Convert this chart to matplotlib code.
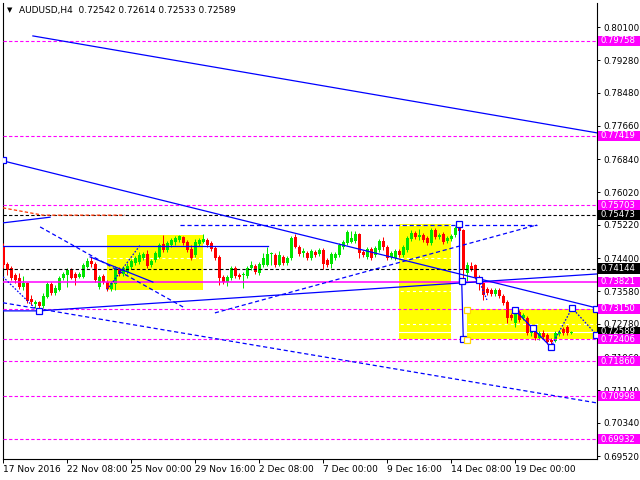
import matplotlib
matplotlib.use("Agg")
import matplotlib.pyplot as plt
from matplotlib.patches import Rectangle
import numpy as np

plt.rcParams['font.family'] = 'DejaVu Sans'
plt.rcParams['lines.scale_dashes'] = False

# AUDUSD H4 candles, bar 0 = 17 Nov 2016
opens = [
    0.7470, 0.7426, 0.7416, 0.7399, 0.7391, 0.7369, 0.7379, 0.7339, 0.7327, 0.7332,
    0.7322, 0.7344, 0.7376, 0.7354, 0.7362, 0.7391, 0.7399, 0.7413, 0.7401, 0.7394,
    0.7394, 0.7418, 0.7433, 0.7426, 0.7369, 0.7396, 0.7381, 0.7364, 0.7376, 0.7413,
    0.7401, 0.7406, 0.7418, 0.7428, 0.7431, 0.7440, 0.7450, 0.7423, 0.7435, 0.7443,
    0.7475, 0.7460, 0.7472, 0.7480, 0.7485, 0.7492, 0.7480, 0.7463, 0.7448, 0.7475,
    0.7480, 0.7485, 0.7477, 0.7465, 0.7443, 0.7394, 0.7381, 0.7391, 0.7416, 0.7399,
    0.7399, 0.7396, 0.7416, 0.7421, 0.7403, 0.7423, 0.7423, 0.7450, 0.7448, 0.7423,
    0.7443, 0.7428, 0.7440, 0.7492, 0.7467, 0.7453, 0.7453, 0.7440, 0.7455, 0.7450,
    0.7460, 0.7435, 0.7426, 0.7440, 0.7448, 0.7467, 0.7477, 0.7480, 0.7482, 0.7499,
    0.7455, 0.7443, 0.7463, 0.7448, 0.7460, 0.7482, 0.7467, 0.7443, 0.7440, 0.7458,
    0.7448, 0.7460, 0.7487, 0.7502, 0.7492, 0.7497, 0.7490, 0.7477, 0.7509, 0.7492,
    0.7499, 0.7482, 0.7487, 0.7497, 0.7514, 0.7509, 0.7403, 0.7421, 0.7423, 0.7394,
    0.7379, 0.7364, 0.7362, 0.7352, 0.7362, 0.7347, 0.7332, 0.7300, 0.7280, 0.7307,
    0.7293, 0.7293, 0.7256, 0.7258, 0.7243, 0.7256, 0.7251, 0.7238, 0.7236, 0.7253,
    0.7265, 0.7270, 0.72542]
highs = [
    0.7477, 0.7431, 0.7421, 0.7403, 0.7403, 0.7396, 0.7381, 0.7349, 0.7337, 0.7335,
    0.7354, 0.7381, 0.7381, 0.7374, 0.7396, 0.7406, 0.7416, 0.7416, 0.7406, 0.7406,
    0.7428, 0.7440, 0.7443, 0.7431, 0.7399, 0.7401, 0.7386, 0.7384, 0.7421, 0.7418,
    0.7421, 0.7428, 0.7438, 0.7445, 0.7455, 0.7455, 0.7460, 0.7438, 0.7458, 0.7477,
    0.7497, 0.7482, 0.7490, 0.7494, 0.7497, 0.7494, 0.7485, 0.7472, 0.7487, 0.7490,
    0.7499, 0.7490, 0.7482, 0.7470, 0.7448, 0.7399, 0.7399, 0.7421, 0.7421, 0.7403,
    0.7406, 0.7421, 0.7433, 0.7426, 0.7431, 0.7453, 0.7467, 0.7455, 0.7453, 0.7458,
    0.7448, 0.7445, 0.7494, 0.7499, 0.7472, 0.7465, 0.7458, 0.7463, 0.7460, 0.7465,
    0.7465, 0.7440, 0.7455, 0.7455, 0.7477, 0.7485, 0.7509, 0.7507, 0.7507, 0.7502,
    0.7460, 0.7467, 0.7467, 0.7470, 0.7487, 0.7492, 0.7472, 0.7458, 0.7463, 0.7463,
    0.7472, 0.7494, 0.7509, 0.7507, 0.7512, 0.7502, 0.7494, 0.7514, 0.7514, 0.7502,
    0.7504, 0.7494, 0.7499, 0.7519, 0.7524, 0.7512, 0.7431, 0.7431, 0.7426, 0.7399,
    0.7384, 0.7369, 0.7367, 0.7367, 0.7367, 0.7352, 0.7337, 0.7305, 0.7310, 0.7312,
    0.7305, 0.7298, 0.7265, 0.7263, 0.7260, 0.7263, 0.7256, 0.7243, 0.7260, 0.7263,
    0.7270, 0.7275, 0.72614]
lows = [
    0.7416, 0.7399, 0.7386, 0.7379, 0.7364, 0.7362, 0.7330, 0.7325, 0.7317, 0.7312,
    0.7317, 0.7342, 0.7349, 0.7349, 0.7359, 0.7386, 0.7369, 0.7389, 0.7374, 0.7391,
    0.7391, 0.7416, 0.7418, 0.7381, 0.7364, 0.7376, 0.7359, 0.7359, 0.7362, 0.7396,
    0.7396, 0.7401, 0.7413, 0.7423, 0.7426, 0.7435, 0.7416, 0.7418, 0.7431, 0.7440,
    0.7455, 0.7455, 0.7467, 0.7472, 0.7480, 0.7472, 0.7455, 0.7435, 0.7443, 0.7470,
    0.7477, 0.7467, 0.7458, 0.7435, 0.7374, 0.7376, 0.7371, 0.7386, 0.7391, 0.7389,
    0.7367, 0.7391, 0.7411, 0.7401, 0.7399, 0.7418, 0.7421, 0.7423, 0.7418, 0.7421,
    0.7423, 0.7423, 0.7435, 0.7465, 0.7445, 0.7443, 0.7435, 0.7435, 0.7443, 0.7445,
    0.7413, 0.7418, 0.7416, 0.7435, 0.7443, 0.7463, 0.7472, 0.7477, 0.7477, 0.7440,
    0.7443, 0.7438, 0.7435, 0.7443, 0.7455, 0.7460, 0.7435, 0.7438, 0.7435, 0.7443,
    0.7443, 0.7455, 0.7482, 0.7487, 0.7485, 0.7480, 0.7472, 0.7472, 0.7487, 0.7487,
    0.7475, 0.7477, 0.7482, 0.7492, 0.7502, 0.7379, 0.7381, 0.7408, 0.7389, 0.7362,
    0.7337, 0.7349, 0.7347, 0.7347, 0.7342, 0.7325, 0.7280, 0.7287, 0.7270, 0.7283,
    0.7287, 0.7251, 0.7248, 0.7238, 0.7238, 0.7241, 0.7229, 0.7224, 0.7234, 0.7248,
    0.7251, 0.7251, 0.72533]
closes = [
    0.7423, 0.7411, 0.7391, 0.7386, 0.7369, 0.7379, 0.7335, 0.7332, 0.7332, 0.7322,
    0.7347, 0.7376, 0.7354, 0.7367, 0.7391, 0.7401, 0.7411, 0.7391, 0.7391, 0.7401,
    0.7423, 0.7433, 0.7426, 0.7386, 0.7394, 0.7381, 0.7364, 0.7379, 0.7416, 0.7401,
    0.7416, 0.7421, 0.7433, 0.7440, 0.7448, 0.7450, 0.7421, 0.7433, 0.7453, 0.7472,
    0.7460, 0.7477, 0.7485, 0.7490, 0.7494, 0.7477, 0.7460, 0.7440, 0.7480, 0.7485,
    0.7487, 0.7472, 0.7463, 0.7440, 0.7391, 0.7381, 0.7394, 0.7416, 0.7396, 0.7394,
    0.7401, 0.7416, 0.7423, 0.7406, 0.7426, 0.7440, 0.7450, 0.7453, 0.7423, 0.7448,
    0.7428, 0.7440, 0.7490, 0.7467, 0.7450, 0.7458, 0.7440, 0.7458, 0.7448, 0.7460,
    0.7426, 0.7423, 0.7450, 0.7450, 0.7472, 0.7480, 0.7504, 0.7490, 0.7499, 0.7453,
    0.7448, 0.7463, 0.7440, 0.7465, 0.7482, 0.7467, 0.7440, 0.7453, 0.7458, 0.7448,
    0.7467, 0.7490, 0.7502, 0.7492, 0.7497, 0.7485, 0.7477, 0.7509, 0.7492, 0.7497,
    0.7480, 0.7490, 0.7494, 0.7514, 0.7507, 0.7411, 0.7423, 0.7413, 0.7394, 0.7376,
    0.7349, 0.7354, 0.7352, 0.7362, 0.7347, 0.7330, 0.7293, 0.7293, 0.7305, 0.7287,
    0.7300, 0.7256, 0.7258, 0.7243, 0.7256, 0.7246, 0.7234, 0.7234, 0.7256, 0.7258,
    0.7256, 0.7256, 0.72589]

date_labels = ["17 Nov 2016", "22 Nov 08:00", "25 Nov 00:00", "29 Nov 16:00", "2 Dec 08:00",
               "7 Dec 00:00", "9 Dec 16:00", "14 Dec 08:00", "19 Dec 00:00"]
label_bars = [0, 16, 32, 48, 64, 80, 96, 112, 128]
price_ticks = [0.80100, 0.79280, 0.78480, 0.77660, 0.76840, 0.76020, 0.75220,
               0.74400, 0.73580, 0.72780, 0.71960, 0.71140, 0.70340, 0.69520]

magenta_dashed = [0.79758, 0.77419, 0.75703, 0.73150, 0.72406, 0.71860, 0.70998, 0.69932]
magenta_solid = [0.73821]
black_dashed = [0.75473, 0.74144]
last_price = 0.72589
title = "AUDUSD,H4  0.72542 0.72614 0.72533 0.72589"

# yellow zones: bar from, bar to, price low, price high
zones = [(25.9, 49.9, 0.7361, 0.7497),
         (98.9, 111.9, 0.7241, 0.7524),
         (115.9, 148.5, 0.7240, 0.7315)]

# drawn objects as (bar, price) points
blue_solid = [
    [(7.4, 0.7988), (148.4, 0.7749)],
    [(-0.1, 0.7680), (148.4, 0.7317)],
    [(-0.1, 0.7470), (66.2, 0.7470)],
    [(-0.1, 0.7310), (8.9, 0.7310), (148.4, 0.7401)],
    [(21.7, 0.7443), (37.4, 0.7381)],
    [(-0.1, 0.7527), (11.7, 0.7541)],
    [(113.9, 0.7524), (113.9, 0.7384)],
    [(114.6, 0.7384), (115.0, 0.7240)],
    [(127.9, 0.7312), (136.9, 0.7221)],
]
blue_dashed = [
    [(9.2, 0.7517), (45.4, 0.7317)],
    [(52.9, 0.7305), (133.4, 0.7522)],
    [(44.2, 0.7522), (133.4, 0.7522)],
    [(-0.1, 0.7330), (148.4, 0.7083)],
]
blue_dotted = [
    [(-0.1, 0.7394), (8.4, 0.7312)],
    [(25.9, 0.7362), (34.2, 0.7472)],
    [(118.9, 0.7386), (120.9, 0.7337)],
    [(136.9, 0.7221), (142.2, 0.7317), (148.4, 0.7250)],
]
red_dashed = [(-0.1, 0.7564), (9.9, 0.7546), (30.4, 0.7546)]
blue_boxes = [(-0.1, 0.7682), (8.9, 0.7310), (113.9, 0.7524), (114.6, 0.7384),
              (115.0, 0.7240), (118.9, 0.7386), (127.9, 0.7312), (132.4, 0.7268),
              (136.9, 0.7221), (142.2, 0.7317), (148.2, 0.7250), (148.2, 0.7314)]
yellow_boxes = [(115.9, 0.7312), (115.9, 0.7238)]

# price tags on the scale (drawn in this order)
tags = [(0.72589, 'black'), (0.79758, '#FF00FF'), (0.77419, '#FF00FF'), (0.75703, '#FF00FF'),
        (0.75473, 'black'), (0.74144, 'black'), (0.73821, '#FF00FF'), (0.73150, '#FF00FF'),
        (0.72406, '#FF00FF'), (0.71860, '#FF00FF'), (0.70998, '#FF00FF'), (0.69932, '#FF00FF')]

fig = plt.figure(figsize=(6.4, 4.8), dpi=100)
ax = fig.add_axes([2.7 / 640, 21 / 480, 594 / 640, 456 / 480])
ax.set_xlim(-0.15, 148.35)
ax.set_ylim(0.69447, 0.80692)

for x0, x1, y0, y1 in zones:
    ax.add_patch(Rectangle((x0, y0), x1 - x0, y1 - y0, fc='#FFFF00', ec='none', zorder=0.2))

ax.set_axisbelow(True)
ax.grid(axis='y', color='white', lw=0.8, ls=(0, (2.2, 2.2)))
ax.axhline(last_price, color='white', lw=0.8, zorder=0.6)

o = np.array(opens)
h = np.array(highs)
l = np.array(lows)
c = np.array(closes)
bars = np.arange(len(o))
col = np.where(c >= o, '#00E600', '#FF0000')
ax.vlines(bars, l, h, colors=col, lw=0.72, zorder=3)
body_h = np.maximum(np.abs(c - o), 0.00008)
body = ax.bar(bars, body_h, bottom=np.minimum(o, c), width=0.72, color=col, lw=0, zorder=3.1)
for b in body:
    b.set_snap(True)

dash = (0, (2.4, 1.6))
for p in magenta_dashed:
    ax.axhline(p, color='#FF00FF', lw=0.8, ls=dash, zorder=4)
for p in magenta_solid:
    ax.axhline(p, color='#FF00FF', lw=1.1, zorder=4)
for p in black_dashed:
    ax.axhline(p, color='black', lw=0.8, ls=dash, zorder=4)

for pts in blue_solid:
    xs, ys = zip(*pts)
    ax.plot(xs, ys, color='#0000FF', lw=0.9, zorder=4.2)
for pts in blue_dashed:
    xs, ys = zip(*pts)
    ax.plot(xs, ys, color='#0000FF', lw=0.9, ls=(0, (3.0, 2.0)), zorder=4.2)
for pts in blue_dotted:
    xs, ys = zip(*pts)
    ax.plot(xs, ys, color='#0000FF', lw=0.9, ls=(0, (1.2, 1.2)), zorder=4.2)
xs, ys = zip(*red_dashed)
ax.plot(xs, ys, color='#FF3300', lw=0.9, ls=dash, zorder=4.1)

xs, ys = zip(*blue_boxes)
ax.plot(xs, ys, ls='none', marker='s', ms=4.2, mfc='white', mec='#0000FF', mew=0.9, zorder=4.5)
xs, ys = zip(*yellow_boxes)
ax.plot(xs, ys, ls='none', marker='s', ms=4.2, mfc='white', mec='#FFD800', mew=0.9, zorder=4.5)

ax.set_yticks(price_ticks)
ax.set_yticklabels([f"{p:.5f}" for p in price_ticks])
ax.yaxis.tick_right()
ax.tick_params(axis='y', length=2.5, width=0.7, pad=2.5, labelsize=6.3)
ax.set_xticks(label_bars)
ax.set_xticklabels(date_labels, ha='left')
ax.tick_params(axis='x', length=3, width=0.7, pad=1.5, labelsize=6.5)
ax.spines['top'].set_visible(False)
for s in ['left', 'right', 'bottom']:
    ax.spines[s].set_linewidth(0.8)

tr = ax.get_yaxis_transform()
for p, fc in tags:
    ax.add_patch(Rectangle((1.0025, p - 0.00125), 0.08, 0.0025, transform=tr,
                           fc=fc, ec='none', clip_on=False, zorder=6))
    ax.text(1.006, p, f"{p:.5f}", transform=tr, color='white', fontsize=6.1,
            ha='left', va='center', zorder=7, clip_on=False)

fig.text(7 / 640, 1 - 10 / 480, "\u25bc", fontsize=5, va='center', ha='left')
fig.text(19 / 640, 1 - 10 / 480, title, fontsize=6.5, va='center', ha='left')

fig.savefig("out.png", dpi=100)
